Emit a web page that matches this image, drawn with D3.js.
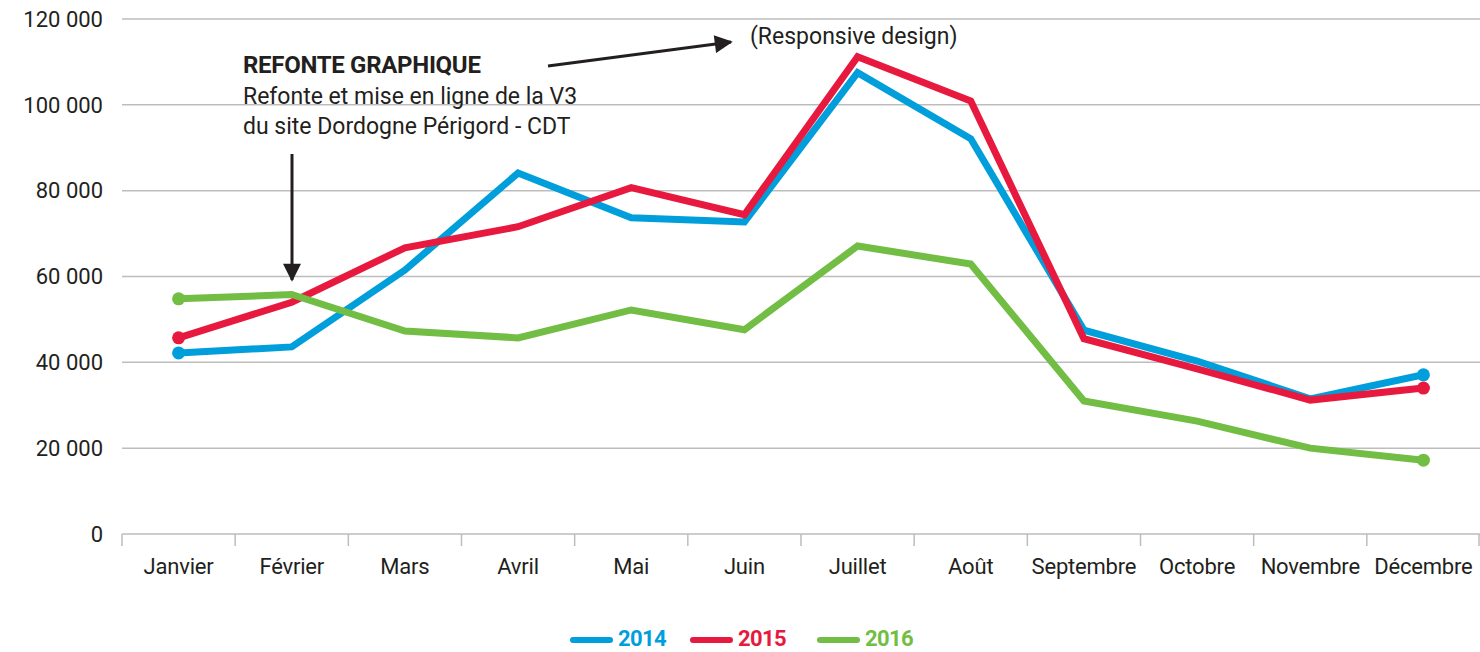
<!DOCTYPE html>
<html>
<head>
<meta charset="utf-8">
<script src="https://cdn.jsdelivr.net/npm/d3@7"></script>
<style>
  body { margin: 0; background: #fff; }
  svg { display: block; font-family: Roboto, "Noto Sans", sans-serif; }
</style>
</head>
<body>
<svg id="chart" width="1480" height="652"></svg>
<script>
const months = ["Janvier", "Février", "Mars", "Avril", "Mai", "Juin", "Juillet", "Août", "Septembre", "Octobre", "Novembre", "Décembre"];
const years = ["2014", "2015", "2016"];
const values2014 = [42200, 43600, 61500, 84100, 73700, 72700, 107500, 92100, 47500, 40300, 31500, 37100];
const values2015 = [45700, 54000, 66700, 71600, 80700, 74400, 111200, 100900, 45500, 38500, 31200, 34000];
const values2016 = [54800, 55800, 47300, 45700, 52200, 47600, 67100, 62900, 31000, 26300, 20000, 17200];
const yTicks = [0, 20000, 40000, 60000, 80000, 100000, 120000];
const colors = ["#009fdb", "#e8193e", "#72bd44"];

const series = [values2014, values2015, values2016];
const textColor = "#231f20";
const svg = d3.select("#chart");

const margin = { left: 122, right: 0, top: 19, bottom: 118 };
const W = 1480, H = 652;

const x = d3.scaleBand().domain(months).range([margin.left, W - margin.right]).padding(0);
const y = d3.scaleLinear().domain([0, 120000]).range([H - margin.bottom, margin.top]);
const cx = m => x(m) + x.bandwidth() / 2;

// grid lines
svg.append("g")
  .selectAll("line")
  .data(yTicks.filter(d => d > 0))
  .join("line")
  .attr("x1", margin.left).attr("x2", W)
  .attr("y1", d => y(d)).attr("y2", d => y(d))
  .attr("stroke", "#bdbdbd").attr("stroke-width", 1.5);

// y labels
const fmt = d => d === 0 ? "0" : d3.format(",")(d).replace(/,/g, " ");
svg.append("g")
  .selectAll("text")
  .data(yTicks)
  .join("text")
  .attr("x", 103).attr("y", d => y(d))
  .attr("dy", "0.35em")
  .attr("text-anchor", "end")
  .attr("fill", textColor)
  .style("font-size", "22px")
  .text(fmt);

// x axis
const xAxis = svg.append("g");
xAxis.append("line")
  .attr("x1", margin.left).attr("x2", W)
  .attr("y1", y(0)).attr("y2", y(0))
  .attr("stroke", "#bdbdbd").attr("stroke-width", 1.5);
xAxis.selectAll("line.tick")
  .data(months.concat([null]))
  .join("line")
  .attr("class", "tick")
  .attr("x1", (d, i) => i < months.length ? x(d) : W - 1)
  .attr("x2", (d, i) => i < months.length ? x(d) : W - 1)
  .attr("y1", y(0)).attr("y2", y(0) + 12)
  .attr("stroke", "#bdbdbd").attr("stroke-width", 1.5);
xAxis.selectAll("text")
  .data(months)
  .join("text")
  .attr("x", d => cx(d))
  .attr("y", y(0) + 40)
  .attr("text-anchor", "middle")
  .attr("fill", textColor)
  .style("font-size", "22px")
  .style("letter-spacing", "-0.2px")
  .text(d => d);

// lines
const line = d3.line()
  .x((d, i) => cx(months[i]))
  .y(d => y(d))
  .curve(d3.curveLinear);

series.forEach((vals, k) => {
  svg.append("path")
    .datum(vals)
    .attr("d", line)
    .attr("fill", "none")
    .attr("stroke", colors[k])
    .attr("stroke-width", 7)
    .attr("stroke-linejoin", "miter");
  const ends = [0, vals.length - 1];
  svg.append("g")
    .selectAll("circle")
    .data(ends)
    .join("circle")
    .attr("cx", i => cx(months[i]))
    .attr("cy", i => y(vals[i]))
    .attr("r", 6.5)
    .attr("fill", colors[k]);
});

// arrow marker
svg.append("defs").append("marker")
  .attr("id", "arrow")
  .attr("viewBox", "0 0 10 10")
  .attr("refX", 9).attr("refY", 5)
  .attr("markerWidth", 6.5).attr("markerHeight", 6)
  .attr("markerUnits", "strokeWidth")
  .attr("orient", "auto")
  .append("path")
  .attr("d", "M0,0 L10,5 L0,10 z")
  .attr("fill", textColor);

// annotations
const ann = svg.append("g").attr("fill", textColor);
ann.append("text")
  .attr("x", 243).attr("y", 73)
  .style("font-size", "24px").style("font-weight", "bold")
  .style("letter-spacing", "-0.3px")
  .text("REFONTE GRAPHIQUE");
ann.append("text")
  .attr("x", 243).attr("y", 104)
  .style("font-size", "23px")
  .text("Refonte et mise en ligne de la V3");
ann.append("text")
  .attr("x", 243).attr("y", 134)
  .style("font-size", "23px")
  .text("du site Dordogne Périgord - CDT");
ann.append("text")
  .attr("x", 750).attr("y", 44)
  .style("font-size", "23px")
  .text("(Responsive design)");

svg.append("line")
  .attr("x1", 292).attr("y1", 154)
  .attr("x2", 292).attr("y2", 280)
  .attr("stroke", textColor).attr("stroke-width", 3)
  .attr("marker-end", "url(#arrow)");
svg.append("line")
  .attr("x1", 548).attr("y1", 66)
  .attr("x2", 731).attr("y2", 42)
  .attr("stroke", textColor).attr("stroke-width", 3)
  .attr("marker-end", "url(#arrow)");

// legend
const legendX = [573, 693, 820];
const legend = svg.append("g");
years.forEach((yr, k) => {
  legend.append("line")
    .attr("x1", legendX[k]).attr("x2", legendX[k] + 37)
    .attr("y1", 640).attr("y2", 640)
    .attr("stroke", colors[k]).attr("stroke-width", 6)
    .attr("stroke-linecap", "round");
  legend.append("text")
    .attr("x", legendX[k] + 45).attr("y", 646)
    .attr("fill", colors[k])
    .style("font-size", "22px").style("font-weight", "bold")
    .style("letter-spacing", "-0.6px")
    .text(yr);
});
</script>
</body>
</html>
